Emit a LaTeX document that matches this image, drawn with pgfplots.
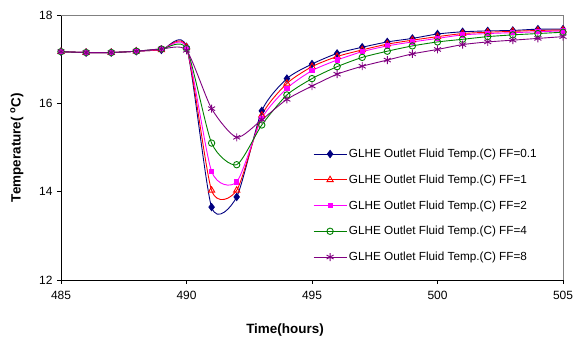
\documentclass[border=0pt]{standalone}
\usepackage{pgfplots}
\usepackage{pgfplotstable}
\pgfplotsset{compat=1.18}
\usepackage{fontspec}
\setmainfont{Liberation Sans}
\definecolor{cnavy}{RGB}{0,0,128}
\definecolor{cred}{RGB}{255,0,0}
\definecolor{cpink}{RGB}{255,0,255}
\definecolor{cgreen}{RGB}{0,128,0}
\definecolor{cpurple}{RGB}{128,0,128}
\pgfplotstableread{
t     a      b      c      d      e
485 17.17 17.17 17.17 17.17 17.17
486 17.15 17.15 17.15 17.15 17.15
487 17.15 17.15 17.15 17.15 17.15
488 17.18 17.18 17.18 17.18 17.18
489 17.21 17.21 17.22 17.23 17.23
490 17.28 17.27 17.26 17.24 17.20
491 13.65 14.03 14.46 15.10 15.88
492 13.88 14.03 14.22 14.61 15.23
493 15.83 15.73 15.66 15.51 15.63
494 16.56 16.45 16.34 16.19 16.09
495 16.89 16.83 16.74 16.56 16.39
496 17.13 17.06 16.98 16.83 16.66
497 17.27 17.21 17.17 17.04 16.84
498 17.39 17.34 17.30 17.18 16.98
499 17.47 17.43 17.39 17.30 17.12
500 17.57 17.51 17.47 17.39 17.22
501 17.62 17.58 17.55 17.45 17.33
502 17.64 17.61 17.58 17.51 17.39
503 17.65 17.63 17.60 17.55 17.43
504 17.68 17.65 17.62 17.58 17.47
505 17.68 17.66 17.64 17.61 17.51
}\data
\begin{document}
\begin{tikzpicture}
\begin{axis}[
  scale only axis, width=502bp, height=265bp,
  xmin=485, xmax=505, ymin=12, ymax=18,
  xtick={485,490,...,505}, ytick={12,14,16,18},
  axis lines=left, axis line style={-, black, line width=0.8pt},
  tick align=outside, major tick length=4bp,
  tick style={black, line width=0.8pt},
  /pgf/number format/assume math mode=true,
  /pgf/number format/1000 sep={},
  tick label style={font=\fontsize{12}{14}\selectfont},
  xticklabel style={yshift=-4bp},
  yticklabel style={xshift=-1bp},
  xlabel={\textbf{Time(hours)}},
  ylabel={\textbf{Temperature( \textsuperscript{o}C)}},
  label style={font=\fontsize{13.5}{15}\selectfont},
  xlabel style={yshift=-17bp, xshift=-27bp},
  ylabel style={yshift=9bp},
  every axis plot/.append style={line width=0.9pt, smooth, tension=0.4},
  legend cell align=left,
  legend style={draw=none, fill=none, at={(0.498,0.51)}, anchor=north west,
    font=\fontsize{11.8}{14}\selectfont, row sep=11.75bp, inner sep=2bp},
  legend image code/.code={\draw[mark repeat=2,mark phase=2] plot coordinates {(0cm,0cm) (0.58cm,0cm) (1.16cm,0cm)};},
  clip=false,
]
\draw[gray, line width=0.8pt] (rel axis cs:0,1) -- (rel axis cs:1,1) -- (rel axis cs:1,0);
\coordinate (O) at (rel axis cs:0,0);
\coordinate (E) at (rel axis cs:1,1);
\addplot[cnavy, mark=diamond*, mark size=3.6bp, mark options={fill=cnavy, solid}] table[x=t,y=a] {\data};
\addlegendentry{GLHE Outlet Fluid Temp.(C) FF=0.1}
\addplot[cred, mark=triangle, mark size=3.6bp, mark options={fill=white, solid}] table[x=t,y=b] {\data};
\addlegendentry{GLHE Outlet Fluid Temp.(C) FF=1}
\addplot[cpink, mark=square*, mark size=2.1bp, mark options={fill=cpink, solid}] table[x=t,y=c] {\data};
\addlegendentry{GLHE Outlet Fluid Temp.(C) FF=2}
\addplot[cgreen, mark=o, mark size=3.2bp, mark options={solid}] table[x=t,y=d] {\data};
\addlegendentry{GLHE Outlet Fluid Temp.(C) FF=4}
\addplot[cpurple, mark=asterisk, mark size=4bp, mark options={solid}] table[x=t,y=e] {\data};
\addlegendentry{GLHE Outlet Fluid Temp.(C) FF=8}
\end{axis}
\pgfresetboundingbox
\path[use as bounding box] ([shift={(-61bp,-59bp)}]O) rectangle ([shift={(10bp,15bp)}]E);
\end{tikzpicture}
\end{document}
